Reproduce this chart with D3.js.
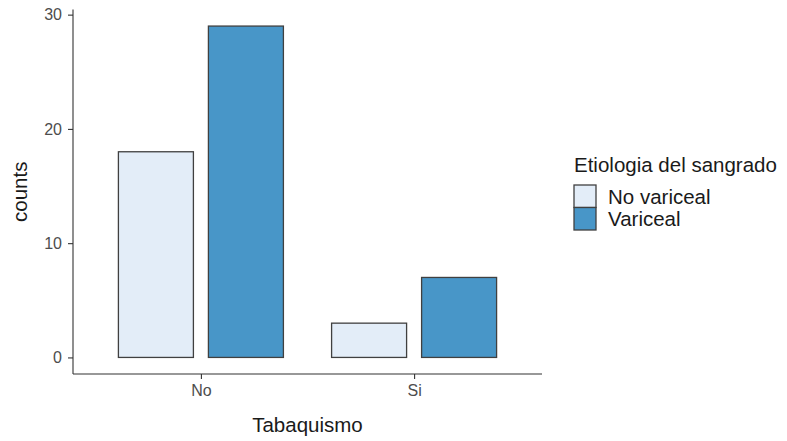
<!DOCTYPE html>
<html>
<head>
<meta charset="utf-8">
<script src="https://cdn.jsdelivr.net/npm/d3@7"></script>
<style>
  body { margin: 0; background: #fff; }
  svg { display: block; font-family: "Liberation Sans", Arial, Helvetica, sans-serif; }
</style>
</head>
<body>
<svg id="chart" width="787" height="441"></svg>
<script>
const categories = ["No", "Si"];
const series = ["No variceal", "Variceal"];
const noVariceal = [18, 3];
const variceal = [29, 7];
const yTicks = [0, 10, 20, 30];
const xTitle = "Tabaquismo";
const yTitle = "counts";
const legendTitle = "Etiologia del sangrado";
const colors = ["#E3EDF8", "#4896C8"];

const data = categories.map((c, i) => ({cat: c, values: [noVariceal[i], variceal[i]]}));

const svg = d3.select("#chart");
const pLeft = 73, pRight = 542, pTop = 9.5, pBottom = 374;

const x = d3.scalePoint().domain(categories).range([pLeft, pRight]).padding(0.6);
const inner = d3.scaleBand().domain(series).range([-82.5, 82.5]).paddingInner(0.1667).paddingOuter(0);
const y = d3.scaleLinear().domain([-1.45, 30.45]).range([pBottom, pTop]);

// bars
const g = svg.append("g");
data.forEach(d => {
  series.forEach((s, j) => {
    g.append("rect")
      .attr("x", x(d.cat) + inner(s))
      .attr("y", y(d.values[j]))
      .attr("width", inner.bandwidth())
      .attr("height", y(0) - y(d.values[j]))
      .attr("fill", colors[j])
      .attr("stroke", "#404040")
      .attr("stroke-width", 1.3);
  });
});

// y axis
const yAxis = svg.append("g").attr("transform", `translate(${pLeft},0)`)
  .call(d3.axisLeft(y).tickValues(yTicks).tickSize(5).tickPadding(6).tickSizeOuter(0));
// x axis
const xAxis = svg.append("g").attr("transform", `translate(0,${pBottom})`)
  .call(d3.axisBottom(x).tickSize(5).tickPadding(6).tickSizeOuter(0));

[yAxis, xAxis].forEach(a => {
  a.select(".domain").attr("stroke", "#333").attr("stroke-width", 1.1);
  a.selectAll(".tick line").attr("stroke", "#333").attr("stroke-width", 1.1);
  a.selectAll(".tick text").attr("fill", "#4d4d4d").style("font-size", "16px")
    .style("font-family", "'Liberation Sans', Arial, sans-serif");
});
yAxis.select(".domain").attr("d", `M0,${pTop}V${pBottom}`);
xAxis.select(".domain").attr("d", `M${pLeft},0H${pRight}`);

// axis titles
svg.append("text").attr("x", (pLeft + pRight) / 2).attr("y", 432)
  .attr("text-anchor", "middle").style("font-size", "20.5px").attr("fill", "#1a1a1a").text(xTitle);
svg.append("text").attr("transform", `translate(27,${(pTop + pBottom) / 2}) rotate(-90)`)
  .attr("text-anchor", "middle").style("font-size", "20.5px").attr("fill", "#1a1a1a").text(yTitle);

// legend
const lg = svg.append("g");
lg.append("text").attr("x", 574).attr("y", 172).style("font-size", "20.5px").attr("fill", "#1a1a1a").text(legendTitle);
series.forEach((s, j) => {
  lg.append("rect").attr("x", 574).attr("y", 185 + j * 22.5).attr("width", 22).attr("height", 22.5)
    .attr("fill", colors[j]).attr("stroke", "#404040").attr("stroke-width", 1.3);
  lg.append("text").attr("x", 608).attr("y", 203.5 + j * 22.5).style("font-size", "20.5px")
    .attr("fill", "#1a1a1a").text(s);
});
</script>
</body>
</html>
